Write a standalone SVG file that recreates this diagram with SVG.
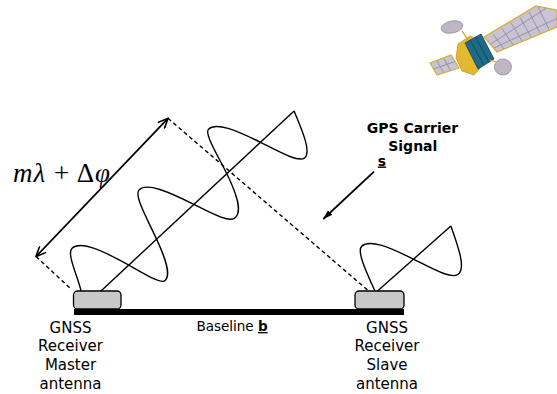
<svg xmlns="http://www.w3.org/2000/svg" width="557" height="394" viewBox="0 0 557 394">
  <style>
    .ant { fill: #c8c8c8; stroke: #000; stroke-width: 1.3; }
    .wave { fill: none; stroke: #000; stroke-width: 1.4; stroke-linejoin: round; }
    .dash { fill: none; stroke: #000; stroke-width: 1.4; stroke-dasharray: 4 3; }
    .arrow { fill: none; stroke: #000; stroke-width: 1.8; }
    .lbl { font-family: "DejaVu Sans", Verdana, sans-serif; font-size: 15px; fill: #000; text-anchor: middle; }
    .head { font-family: "DejaVu Sans", Verdana, sans-serif; font-size: 14px; font-weight: bold; fill: #000; text-anchor: middle; }
    .math { font-family: "Liberation Serif", "Times New Roman", serif; font-size: 27px; fill: #000; }
    .grid { stroke: #8c8696; stroke-width: 0.8; fill: none; }
  </style>
  <defs>
    <marker id="open" viewBox="0 0 12 10" refX="11" refY="5" markerWidth="12" markerHeight="10" markerUnits="userSpaceOnUse" orient="auto-start-reverse">
      <path d="M1,0.5 L11,5 L1,9.5" fill="none" stroke="#000" stroke-width="1.6"/>
    </marker>
    <marker id="solid" viewBox="0 0 10 8" refX="9.5" refY="4" markerWidth="10" markerHeight="8" markerUnits="userSpaceOnUse" orient="auto">
      <path d="M0,0.8 L10,4 L0,7.2 Z" fill="#000"/>
    </marker>
  </defs>

  <rect width="557" height="394" fill="#fff"/>

  <!-- satellite -->
  <g id="satellite">
    <!-- right solar array -->
    <polygon points="484,37 536,6 557,10 557,27 497,52" fill="#c9c3d3" stroke="#d2b02a" stroke-width="1.2"/>
    <path class="grid" d="M490,44.5 L546.5,8 M494,48 L557,18.5 M493,34 L504,49 M502,28.5 L513,45 M511,23 L522,41 M520,17.5 L531,37 M529,12 L540,33 M538,7 L549,29.5"/>
    <!-- left solar array -->
    <polygon points="430,63 451,55 459,68 437,75" fill="#c9c3d3" stroke="#d2b02a" stroke-width="1.1"/>
    <path class="grid" d="M433.5,69 L455,61.5 M437,61 L443.5,72.5 M444,58.5 L450.5,70.5"/>
    <!-- gold structure -->
    <polygon points="458,44 470,36 478,40 482,66 474,75 462,71 456,58" fill="#e2b92e" stroke="#a88418" stroke-width="0.6"/>
    <!-- body modules -->
    <polygon points="465,43 481,34 494,59 478,69" fill="#1e6b88" stroke="#0f3f52" stroke-width="0.8"/>
    <path d="M470,40 L483.5,64.5 M475.5,37 L489,62" stroke="#0f3f52" stroke-width="0.8" fill="none"/>
    <!-- dishes -->
    <ellipse cx="452" cy="27" rx="11" ry="6" transform="rotate(-12 452 27)" fill="#bdb8c3" stroke="#8a8590" stroke-width="0.7"/>
    <ellipse cx="503" cy="67" rx="8.5" ry="8" fill="#bdb8c3" stroke="#8a8590" stroke-width="0.7"/>
    <path d="M462,31 L468,40 M496,62 L490,60" stroke="#c9a020" stroke-width="1.2"/>
  </g>

  <!-- baseline bar -->
  <g id="baseline">
    <rect x="74" y="309" width="330" height="6" fill="#000"/>
    <text class="lbl" x="232" y="331" style="font-size:13.5px">Baseline <tspan font-weight="bold" text-decoration="underline">b</tspan></text>
  </g>

  <!-- carrier signal arriving at master antenna -->
  <g id="master-signal">
    <g transform="translate(101,291) rotate(-43)">
      <line x1="0" y1="0" x2="264" y2="0" stroke="#000" stroke-width="1.4"/>
      <path class="wave" d="M-14.6,-13.6 C-7.2,-25.8 0,-51 8,-51 C18.8,-51 27.97,-31.1 38,0 C43.35,16.6 48.23,36 54,36 C61.93,36 68.65,22.6 76,0 C83.02,-21.6 89.43,-48 97,-48 C107.8,-48 116.97,-26.9 127,0 C134.02,18.8 140.43,38 148,38 C156.65,38 163.98,26.5 172,0 C177.68,-18.7 182.87,-45 189,-45 C199.45,-45 208.31,-26.2 218,0 C225.35,19.8 232.07,41.5 240,41.5 C248.65,41.5 255.98,21.8 264,0"/>
    </g>
  </g>

  <!-- carrier signal arriving at slave antenna -->
  <g id="slave-signal">
    <g transform="translate(377.5,291) rotate(-41.5)">
      <line x1="0" y1="0" x2="98" y2="0" stroke="#000" stroke-width="1.4"/>
      <path class="wave" d="M-2,-1.5 C4.7,-23 10.8,-44 18,-44 C28.8,-44 37.97,-25.1 48,0 C56.02,20.1 63.35,41 72,41 C81.37,41 89.31,21.5 98,0"/>
    </g>
  </g>

  <!-- antennas -->
  <g id="master-antenna">
    <rect class="ant" x="73.5" y="291" width="47.5" height="18" rx="4"/>
    <text class="lbl" x="70.5" y="332.5">GNSS</text>
    <text class="lbl" x="70.5" y="351.2">Receiver</text>
    <text class="lbl" x="70.5" y="369.9">Master</text>
    <text class="lbl" x="70.5" y="388.6">antenna</text>
  </g>
  <g id="slave-antenna">
    <rect class="ant" x="355" y="291" width="49" height="18" rx="4"/>
    <text class="lbl" x="387" y="332.5">GNSS</text>
    <text class="lbl" x="387" y="351.2">Receiver</text>
    <text class="lbl" x="387" y="369.9">Slave</text>
    <text class="lbl" x="387" y="388.6">antenna</text>
  </g>

  <!-- signal direction label -->
  <g id="carrier-label">
    <text class="head" x="412.5" y="133.3">GPS Carrier</text>
    <text class="head" x="412.8" y="150.7">Signal</text>
    <text class="head" x="382" y="165.5" text-decoration="underline">s</text>
  </g>

  <!-- range difference label -->
  <g id="range-label">
    <text class="math" x="13" y="182" textLength="97" lengthAdjust="spacing"><tspan font-style="italic">mλ</tspan> + Δ<tspan font-style="italic">φ</tspan></text>
  </g>

  <!-- connectors -->
  <g id="connectors">
    <line class="dash" x1="36" y1="256.5" x2="72" y2="290"/>
    <line class="dash" x1="168" y1="118.3" x2="367.5" y2="290"/>
    <line class="arrow" x1="36" y1="256.5" x2="168" y2="118.3" marker-start="url(#open)" marker-end="url(#open)"/>
    <line class="arrow" x1="374" y1="171.7" x2="323.3" y2="219" marker-end="url(#solid)"/>
  </g>
</svg>
